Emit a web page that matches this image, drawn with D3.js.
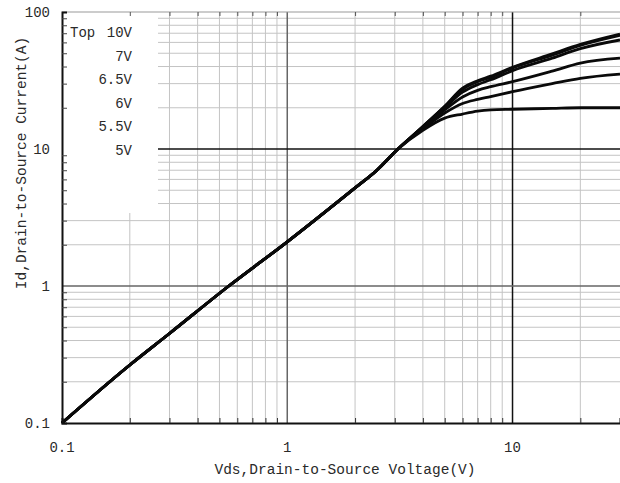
<!DOCTYPE html>
<html>
<head>
<meta charset="utf-8">
<script src="https://cdn.jsdelivr.net/npm/d3@7"></script>
<style>
  body { margin: 0; background: #fff; }
  text { font-family: "Liberation Mono", "DejaVu Sans Mono", monospace; fill: #2a2a2a; }
</style>
</head>
<body>
<div class="vis-output"></div>
<script>
// Vds points (V), shared by every curve
const vds = [0.1, 0.2, 0.3, 0.55, 1, 2, 2.5, 3.1, 4, 5, 6, 7, 8, 10, 15, 20, 30];

// Id (A) per gate voltage
const id10v  = [0.1, 0.265, 0.45, 1.0, 2.1, 5.2, 7.0, 10, 14.6, 20.5, 27.8, 31.5, 34.0, 39.5, 49.5, 58.0, 69.0];
const id7v   = [0.1, 0.265, 0.45, 1.0, 2.1, 5.2, 7.0, 10, 14.6, 20.4, 27.3, 31.0, 33.3, 39.0, 48.5, 57.0, 67.5];
const id65v  = [0.1, 0.265, 0.45, 1.0, 2.1, 5.2, 7.0, 10, 14.5, 20.0, 26.0, 29.5, 32.0, 37.3, 46.0, 54.0, 62.5];
const id6v   = [0.1, 0.265, 0.45, 1.0, 2.1, 5.2, 7.0, 10, 14.3, 19.3, 24.0, 26.8, 28.5, 31.0, 37.0, 42.3, 46.0];
const id55v  = [0.1, 0.265, 0.45, 1.0, 2.1, 5.2, 7.0, 10, 14.0, 18.3, 21.5, 23.0, 24.1, 26.2, 30.0, 32.8, 35.2];
const id5v   = [0.1, 0.265, 0.45, 1.0, 2.1, 5.2, 7.0, 10, 13.7, 16.8, 18.0, 18.9, 19.3, 19.5, 19.8, 20.0, 20.0];

const seriesNames = ['10V', '7V', '6.5V', '6V', '5.5V', '5V'];
const seriesValues = [id10v, id7v, id65v, id6v, id55v, id5v];

// axis ticks
const xMajor = [0.1, 1, 10];
const yMajor = [0.1, 1, 10, 100];
const xLabels = ['0.1', '1', '10'];
const yLabels = ['0.1', '1', '10', '100'];
const xMinor = [0.2, 0.3, 0.4, 0.5, 0.6, 0.7, 0.8, 0.9, 2, 3, 4, 5, 6, 7, 8, 9, 20];
const yMinor = [0.2, 0.3, 0.4, 0.5, 0.6, 0.7, 0.8, 0.9, 2, 3, 4, 5, 6, 7, 8, 9, 20, 30, 40, 50, 60, 70, 80, 90];

const xTitle = 'Vds,Drain-to-Source Voltage(V)';
const yTitle = 'Id,Drain-to-Source Current(A)';

const W = 620, H = 483;
const margin = {left: 62, right: 620, top: 12, bottom: 423};

const svg = d3.select('.vis-output').append('svg')
    .attr('width', W)
    .attr('height', H);

const x = d3.scaleLog().domain([0.1, 30]).range([margin.left, margin.right]);
const y = d3.scaleLog().domain([0.1, 100]).range([margin.bottom, margin.top]);

// minor grid
const grid = svg.append('g');
grid.selectAll('.vmin').data(xMinor).enter().append('line')
    .attr('x1', d => x(d)).attr('x2', d => x(d))
    .attr('y1', margin.top).attr('y2', margin.bottom)
    .attr('stroke', '#c4c4c4').attr('stroke-width', 1);
grid.selectAll('.hmin').data(yMinor).enter().append('line')
    .attr('x1', margin.left).attr('x2', margin.right)
    .attr('y1', d => y(d)).attr('y2', d => y(d))
    .attr('stroke', '#c4c4c4').attr('stroke-width', 1);

// major grid (10 is black, 1 is dark gray)
const majorColor = d => d === 10 ? '#111' : '#666';
grid.selectAll('.vmaj').data([1, 10]).enter().append('line')
    .attr('x1', d => x(d)).attr('x2', d => x(d))
    .attr('y1', margin.top).attr('y2', margin.bottom)
    .attr('stroke', majorColor).attr('stroke-width', 1.5);
grid.selectAll('.hmaj').data([1, 10]).enter().append('line')
    .attr('x1', margin.left).attr('x2', margin.right)
    .attr('y1', d => y(d)).attr('y2', d => y(d))
    .attr('stroke', majorColor).attr('stroke-width', 1.5);

// white box behind the legend
svg.append('rect')
    .attr('x', margin.left).attr('y', margin.top)
    .attr('width', 96).attr('height', 201)
    .attr('fill', '#fff');

// curves
const line = d3.line()
    .x(d => x(d[0]))
    .y(d => y(d[1]))
    .curve(d3.curveMonotoneX);

svg.append('g').selectAll('path')
    .data(seriesValues.map(s => vds.map((v, i) => [v, s[i]])))
    .enter().append('path')
    .attr('d', line)
    .attr('fill', 'none')
    .attr('stroke', '#0a0a0a')
    .attr('stroke-width', 2.8)
    .attr('stroke-linejoin', 'round');

// frame
svg.append('line').attr('x1', margin.left).attr('x2', margin.right)
    .attr('y1', margin.top).attr('y2', margin.top)
    .attr('stroke', '#999').attr('stroke-width', 1);

// bottom axis (inner ticks)
const gX = svg.append('g').attr('transform', `translate(0,${margin.bottom})`);
gX.call(d3.axisBottom(x).tickValues(xMinor).tickSize(-5).tickFormat(''));
gX.select('.domain').attr('stroke', '#111').attr('stroke-width', 2);
gX.selectAll('.tick line').attr('stroke', '#333');
gX.selectAll('.xl').data(xMajor).enter().append('text')
    .attr('x', d => x(d)).attr('y', 29)
    .attr('text-anchor', 'middle')
    .style('font-size', '14px')
    .text((d, i) => xLabels[i]);

// top inner ticks
const gTop = svg.append('g').attr('transform', `translate(0,${margin.top})`);
gTop.call(d3.axisTop(x).tickValues(xMinor).tickSize(-4).tickFormat(''));
gTop.select('.domain').remove();
gTop.selectAll('.tick line').attr('stroke', '#555');

// left axis (inner ticks)
const gY = svg.append('g').attr('transform', `translate(${margin.left},0)`);
gY.call(d3.axisLeft(y).tickValues(yMinor).tickSize(-5).tickFormat(''));
gY.select('.domain').attr('stroke', '#111').attr('stroke-width', 2);
gY.selectAll('.tick line').attr('stroke', '#444');
gY.selectAll('.yl').data(yMajor).enter().append('text')
    .attr('x', -12).attr('y', d => y(d) + 5)
    .attr('text-anchor', 'end')
    .style('font-size', '14px')
    .text((d, i) => yLabels[i]);

// legend
const legend = svg.append('g');
legend.append('text').attr('x', 70).attr('y', 37).style('font-size', '14px').text('Top');
legend.selectAll('.lg').data(seriesNames).enter().append('text')
    .attr('x', 132)
    .attr('y', (d, i) => 37 + i * 23.5)
    .attr('text-anchor', 'end')
    .style('font-size', '14px')
    .text(d => d);

// titles
svg.append('text')
    .attr('x', 345).attr('y', 474)
    .attr('text-anchor', 'middle')
    .style('font-size', '14.5px')
    .text(xTitle);

svg.append('text')
    .attr('transform', 'translate(26,163) rotate(-90)')
    .attr('text-anchor', 'middle')
    .style('font-size', '14.5px')
    .text(yTitle);
</script>
</body>
</html>
